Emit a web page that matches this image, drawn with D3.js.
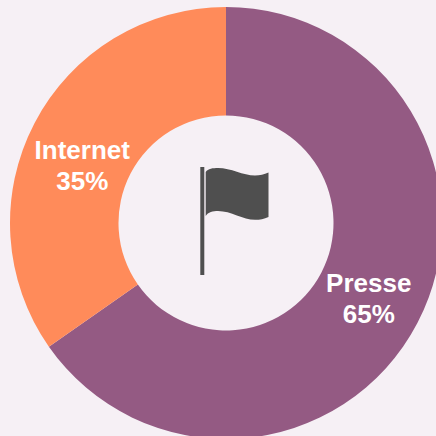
<!DOCTYPE html>
<meta charset="utf-8">
<style>
  html, body { margin: 0; padding: 0; background: #f6f0f5; }
  svg { display: block; }
</style>

<script src="https://d3js.org/d3.v7.min.js"></script>

<div id="chart"></div>

<script>

// Data
var categories = ["Presse", "Internet"]
var values = [65.3, 34.7]
var colors = ["#945a83", "#ff8b5a"]

var size = 436
var cx = 226, cy = 223
var outerRadius = 216, innerRadius = 107.5

var svg = d3.select("#chart")
  .append("svg")
  .attr("width", size)
  .attr("height", size)

var color = d3.scaleOrdinal().domain(categories).range(colors)

var pie = d3.pie().sort(null).value(function(d, i){ return values[i] })
var arc = d3.arc().innerRadius(innerRadius).outerRadius(outerRadius)

var g = svg.append("g").attr("transform", "translate(" + cx + "," + cy + ")")

var slices = pie(categories)

g.selectAll("path")
  .data(slices)
  .enter()
  .append("path")
    .attr("d", arc)
    .style("fill", function(d){ return color(d.data) })

// Labels sit at the middle of the ring, the small one is pushed down a bit
var labelOffset = { "Presse": [0, 0], "Internet": [-1, 15] }
var labelRadius = 161

var labels = g.selectAll("text.label")
  .data(slices)
  .enter()
  .append("text")
    .attr("class", "label")
    .attr("text-anchor", "middle")
    .style("font-family", "Liberation Sans, Arial, sans-serif")
    .style("font-weight", "bold")
    .style("font-size", "26px")
    .style("fill", "#ffffff")
    .attr("transform", function(d){
      var a = (d.startAngle + d.endAngle) / 2
      var off = labelOffset[d.data]
      return "translate(" + (Math.sin(a) * labelRadius + off[0]) + "," + (-Math.cos(a) * labelRadius + off[1]) + ")"
    })

labels.append("tspan")
  .attr("x", 0)
  .attr("y", -5)
  .text(function(d){ return d.data })

labels.append("tspan")
  .attr("x", 0)
  .attr("y", 26)
  .text(function(d){ return d3.format(".0f")(d.value) + "%" })

// Flag icon in the hole
var icon = svg.append("g").style("fill", "#4f4f4f")

icon.append("rect")
  .attr("x", 200.3)
  .attr("y", 167)
  .attr("width", 4)
  .attr("height", 108)

icon.append("path")
  .attr("d", "M205.7 172 C208 168.5 213 168 218 168 C231 168 243 175.5 255 175.5 C260 175.5 264 174.5 268.5 172.5 L268.5 217 C264 219 260 219.8 255 219.8 C243 219.8 231 211 218 211 C213 211 208 212 205.7 216 Z")

</script>
